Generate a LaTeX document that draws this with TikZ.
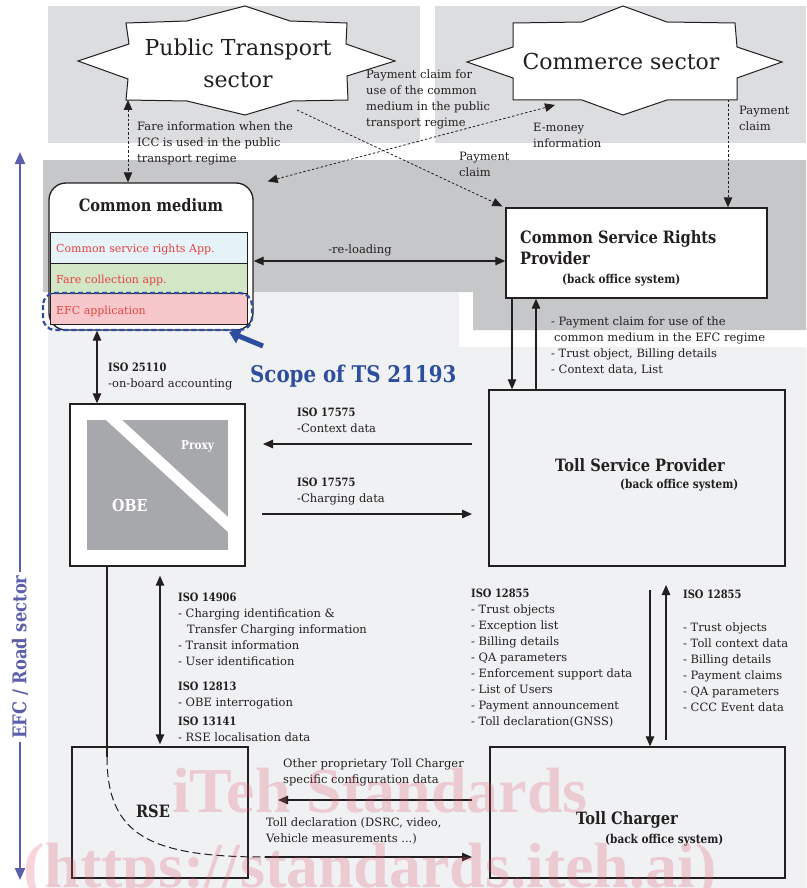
\documentclass[tikz,border=0pt]{standalone}
\usepackage{fontspec}
\setmainfont{DejaVu Serif}
\newfontfamily\headfont[FakeStretch=0.86]{DejaVu Serif}
\newfontfamily\wmfont{Liberation Serif}
\usetikzlibrary{arrows.meta}
\definecolor{ink}{HTML}{231F20}
\definecolor{bgtop}{HTML}{DCDDDF}
\definecolor{bgmid}{HTML}{C6C7C9}
\definecolor{bgroad}{HTML}{F0F1F3}
\definecolor{axisblue}{HTML}{5B5EAB}
\definecolor{scopeblue}{HTML}{2D4E9E}
\definecolor{rowblue}{HTML}{E6F3F9}
\definecolor{rowgreen}{HTML}{D3E6C6}
\definecolor{rowpink}{HTML}{F7C8CB}
\definecolor{redtxt}{HTML}{E8403F}
\definecolor{obegray}{HTML}{A7A8AB}
\definecolor{wm}{HTML}{E05068}
\newcommand\fsbody{\fontsize{11.5}{16}\selectfont}
\newcommand\isoh[1]{{\headfont\bfseries #1}}
\begin{document}
\begin{tikzpicture}[x=1pt,y=-1pt,
  txt/.style={font=\fsbody, text=ink, align=left, inner sep=0pt, anchor=north west},
  box/.style={draw=ink, line width=1.3pt, inner sep=0pt},
  rowbox/.style={draw=ink, line width=0.9pt, inner sep=0pt, anchor=north west, minimum width=197pt},
  rowtxt/.style={font=\fontsize{11}{13}\selectfont, text=redtxt, inner sep=0pt, anchor=base west},
  hd/.style={font=\headfont\bfseries\fontsize{17}{21}\selectfont, text=ink, inner sep=0pt, align=left},
  sub/.style={font=\headfont\bfseries\fontsize{12.2}{14}\selectfont, text=ink, inner sep=0pt, anchor=base west},
  startxt/.style={font=\fontsize{22}{32}\selectfont, text=ink, align=center, inner sep=0pt},
  arr/.style={draw=ink, line width=1.2pt, -{Triangle[length=10pt,width=8.5pt]}},
  darr/.style={draw=ink, line width=1.2pt, {Triangle[length=10pt,width=8.5pt]}-{Triangle[length=10pt,width=8.5pt]}},
  dotarr/.style={draw=ink, line width=0.8pt, dash pattern=on 2.5pt off 2pt, -{Triangle[length=10pt,width=8.5pt]}},
  dotdarr/.style={draw=ink, line width=0.8pt, dash pattern=on 2.5pt off 2pt, {Triangle[length=10pt,width=8.5pt]}-{Triangle[length=10pt,width=8.5pt]}},
  wmtxt/.style={font=\wmfont\bfseries\fontsize{64}{70}\selectfont, text=wm, opacity=0.24, inner sep=0pt, anchor=base}
]
\useasboundingbox (0,0) rectangle (806,888);
\fill[white] (0,0) rectangle (806,888);
% backgrounds
\fill[bgtop] (48,6) rectangle (420,143);
\fill[bgtop] (435,6) rectangle (806,143);
\fill[bgmid] (43,160) -- (806,160) -- (806,330) -- (473,330) -- (473,292) -- (43,292) -- cycle;
\fill[bgroad] (48,292) -- (459,292) -- (459,347) -- (806,347) -- (806,888) -- (48,888) -- cycle;

% stars
\draw[ink, line width=1pt, fill=white] (245,6) -- (290,21) -- (347,23) -- (346,44) -- (395,61) -- (347,76) -- (348,100) -- (292,101) -- (245,115) -- (187,101) -- (126,100) -- (128,79) -- (78,61) -- (129,44) -- (126,23) -- (187,21) -- cycle;
\node[startxt] (ptlabel) at (238,63) {Public Transport\\sector};
\draw[ink, line width=1pt, fill=white] (623,6) -- (667,22) -- (735,23) -- (737,47) -- (782,62) -- (737,78) -- (737,100) -- (667,100) -- (623,115) -- (582,100) -- (513,100) -- (513,78) -- (467,62) -- (513,47) -- (513,23) -- (582,22) -- cycle;
\node[startxt] (cslabel) at (621,61) {Commerce sector};

% left axis
\coordinate (axT) at (20,152);
\coordinate (axB) at (20,880);
\draw[axisblue, line width=2.2pt, {Triangle[length=12pt,width=10pt]}-{Triangle[length=12pt,width=10pt]}] (axT) -- (axB);
\node[fill=white, rotate=90, text=axisblue, font=\headfont\bfseries\fontsize{19}{22}\selectfont, inner sep=3pt] (axlabel) at (20,657) {EFC / Road sector};

% common medium
\node[box, fill=white, rounded corners=17pt, minimum width=204pt, minimum height=147pt] (cm) at (151,256.5) {};
\node[font=\headfont\bfseries\fontsize{17}{21}\selectfont, text=ink] (cmtitle) at (151,205) {Common medium};
\node[rowbox, fill=rowblue, minimum height=31pt] (r1) at (50,232) {};
\node[rowbox, fill=rowgreen, minimum height=30pt] (r2) at (50,263) {};
\node[rowbox, fill=rowpink, minimum height=31pt] (r3) at (50,293) {};
\node[rowtxt] (r1t) at (56,252) {Common service rights App.};
\node[rowtxt] (r2t) at (56,283) {Fare collection app.};
\node[rowtxt] (r3t) at (56,314) {EFC application};
\draw[scopeblue, line width=2.2pt, dash pattern=on 5pt off 3pt, rounded corners=12pt] (43,293) rectangle (252,330);
\coordinate (scA) at (263,346);
\coordinate (scB) at (229,332);
\draw[scopeblue, line width=5pt, -{Triangle[length=11pt,width=15pt]}] (scA) -- (scB);
\node[font=\headfont\bfseries\fontsize{23}{26}\selectfont, text=scopeblue, inner sep=0pt, anchor=base west] (scope) at (250,382) {Scope of TS 21193};

% CSRP
\node[box, fill=white, minimum width=261pt, minimum height=90pt] (csrp) at (636.5,253) {};
\node[hd, anchor=north west] (csrpt) at (520,230) {Common Service Rights\\Provider};
\node[sub] (csrps) at (562,283.5) {(back office system)};

% TSP
\node[box, minimum width=296pt, minimum height=176pt] (tsp) at (637,478) {};
\node[hd] (tspt) at (640,465) {Toll Service Provider};
\node[sub] (tsps) at (620,488) {(back office system)};

% OBE
\node[box, fill=white, minimum width=175pt, minimum height=162pt] (obe) at (157.5,485) {};
\fill[obegray] (87,420) rectangle (228,550);
\fill[white] (106,420) -- (122,420) -- (228,517) -- (228,532) -- cycle;
\node[font=\headfont\bfseries\fontsize{12.2}{14}\selectfont, text=white, inner sep=0pt, anchor=base west] (proxy) at (181,449) {Proxy};
\node[font=\headfont\bfseries\fontsize{16.5}{20}\selectfont, text=white, inner sep=0pt, anchor=base west] (obet) at (112,511) {OBE};

% RSE and TC
\node[box, minimum width=176pt, minimum height=131pt] (rse) at (160,812.5) {};
\node[hd] (rset) at (153,811) {RSE};
\node[box, minimum width=295pt, minimum height=131pt] (tc) at (637.5,812.5) {};
\node[hd, anchor=base] (tct) at (627,824) {Toll Charger};
\node[sub] (tcs) at (605,843) {(back office system)};

% texts
\node[txt] (fare) at (137,122) {Fare information when the\\ICC is used in the public\\transport regime};
\node[txt] (paytop) at (366,70) {Payment claim for\\use of the common\\medium in the public\\transport regime};
\node[txt] (emoney) at (533,123) {E-money\\information};
\node[txt] (paymid) at (459,152) {Payment\\claim};
\node[txt] (payright) at (739,106) {Payment\\claim};
\node[font=\fsbody, text=ink, inner sep=0pt, anchor=base] (reload) at (360,253) {-re-loading};
\node[txt] (iso25110) at (108,363) {\isoh{ISO 25110}\\-on-board accounting};
\node[txt] (csrplab) at (551,317) {- Payment claim for use of the\\\hspace*{3pt}common medium in the EFC regime\\- Trust object, Billing details\\- Context data, List};
\node[txt] (iso17575a) at (297,408) {\isoh{ISO 17575}\\-Context data};
\node[txt] (iso17575b) at (297,478) {\isoh{ISO 17575}\\-Charging data};
\node[txt] (iso14906) at (178,593) {\isoh{ISO 14906}\\- Charging identification \&\\\hspace*{9pt}Transfer Charging information\\- Transit information\\- User identification};
\node[txt] (iso12813) at (178,682) {\isoh{ISO 12813}\\- OBE interrogation};
\node[txt] (iso13141) at (178,717) {\isoh{ISO 13141}\\- RSE localisation data};
\node[txt] (iso12855a) at (471,589) {\isoh{ISO 12855}\\- Trust objects\\- Exception list\\- Billing details\\- QA parameters\\- Enforcement support data\\- List of Users\\- Payment announcement\\- Toll declaration(GNSS)};
\node[txt] (iso12855b) at (683,590) {\isoh{ISO 12855}};
\node[txt] (iso12855c) at (683,623) {- Trust objects\\- Toll context data\\- Billing details\\- Payment claims\\- QA parameters\\- CCC Event data};
\node[txt] (other) at (283,759) {Other proprietary Toll Charger\\specific configuration data};
\node[txt] (tolldecl) at (266,818) {Toll declaration (DSRC, video,\\Vehicle measurements ...)};

% dotted connectors
\coordinate (ptS) at (128,100);
\draw[dotdarr] (ptS) -- (ptS |- cm.north);
\coordinate (ptR) at (297,110);
\draw[dotarr] (ptR) -- ([xshift=-3pt,yshift=1pt]csrp.north west);
\coordinate (csL) at (555,105);
\draw[dotdarr] ([xshift=14pt,yshift=1pt]cm.north east) -- (csL);
\coordinate (csS) at (728,100);
\draw[dotarr] (csS) -- (csS |- csrp.north);

% solid connectors
\coordinate (rl) at (0,261);
\draw[darr] (cm.east |- rl) -- (csrp.west |- rl);
\coordinate (c1) at (97,0);
\draw[darr] (cm.south -| c1) -- (obe.north -| c1);
\coordinate (d1) at (512,0);
\draw[arr] (csrp.south -| d1) -- (tsp.north -| d1);
\coordinate (u1) at (536,0);
\draw[arr] (tsp.north -| u1) -- (csrp.south -| u1);
\coordinate (ctxR) at (472,444);
\coordinate (ctxL) at (263,444);
\draw[arr] (ctxR) -- (ctxL);
\coordinate (chL) at (262,514);
\coordinate (chR) at (472,514);
\draw[arr] (chL) -- (chR);
\coordinate (or) at (160,0);
\draw[darr] ([yshift=-9pt]obe.south -| or) -- ([yshift=2pt]rse.north -| or);
\coordinate (t1) at (650,590);
\draw[arr] (t1) -- (tc.north -| t1);
\coordinate (t2a) at (666,740);
\coordinate (t2b) at (666,585);
\draw[arr] (t2a) -- (t2b);
\coordinate (tcA) at (472,800);
\coordinate (tcB) at (278,800);
\draw[arr] (tcA) -- (tcB);
\coordinate (cv) at (107,0);
\coordinate (cv1) at (107,757);
\coordinate (cv2) at (265,857);
\coordinate (cv3) at (472,857);
\draw[ink, line width=1.2pt] (obe.south -| cv) -- (cv1);
\draw[ink, line width=1pt, dash pattern=on 8pt off 4pt] (cv1) .. controls (107,835) and (150,857) .. (cv2);
\draw[arr] (cv2) -- (cv3);

% watermark
\node[wmtxt] (wm1) at (380,812) {iTeh Standards};
\node[wmtxt] (wm2) at (370,887) {(https://standards.iteh.ai)};
\end{tikzpicture}
\end{document}
